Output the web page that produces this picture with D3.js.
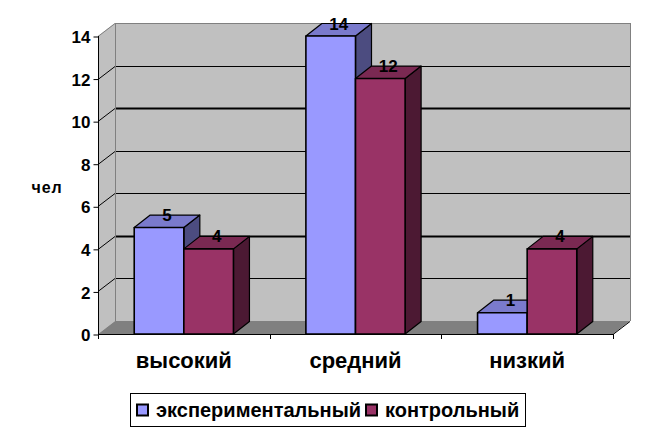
<!DOCTYPE html>
<html><head><meta charset="utf-8">
<script src="https://cdn.jsdelivr.net/npm/d3@7"></script>
<style>body{margin:0;background:#fff}svg{display:block}text{font-family:"Liberation Sans",Arial,sans-serif;font-weight:bold}</style>
</head><body>
<script>
const categories = ["высокий", "средний", "низкий"];
const seriesNames = ["экспериментальный", "контрольный"];
const experimental = [5, 14, 1];
const control = [4, 12, 4];
const yTicks = [0, 2, 4, 6, 8, 10, 12, 14];
const yAxisTitle = "чел";

const W = 658, H = 439;
const svg = d3.select("body").append("svg").attr("width", W).attr("height", H);

const y = d3.scaleLinear().domain([0, 14]).range([334, 36]);
const x = d3.scaleBand().domain(categories).range([98, 613]).paddingInner(0).paddingOuter(0);
const WDX = 17, WDY = -13;   // wall depth
const BDX = 16, BDY = -12.5; // bar depth
const left = 98, right = 613, base = 334;
const r = v => Math.round(y(v));
const FONT = "Liberation Sans, Arial, sans-serif";

const colors = {
  "экспериментальный": {front: "#9999ff", top: "#7a7acc", side: "#4c4c80"},
  "контрольный": {front: "#993366", top: "#7a2952", side: "#4c1933"}
};

// walls
svg.append("polygon").attr("points", [[left, r(14)], [left + WDX, r(14) + WDY], [left + WDX, base + WDY], [left, base]].join(" ")).attr("fill", "#c0c0c0");
svg.append("rect").attr("x", left + WDX).attr("y", r(14) + WDY).attr("width", right - left).attr("height", base - r(14)).attr("fill", "#c0c0c0");
// floor
svg.append("polygon").attr("points", [[left, base], [left + WDX, base + WDY], [right + WDX, base + WDY], [right, base]].join(" ")).attr("fill", "#808080");

// gridlines
yTicks.filter(v => v > 0).forEach(v => {
  const yy = r(v) + WDY;
  const isTop = v === 14;
  const sw = (v === 10 || v === 4) ? 2 : 1;
  svg.append("line").attr("x1", left + WDX).attr("x2", right + WDX).attr("y1", yy + 0.5).attr("y2", yy + 0.5)
    .attr("stroke", isTop ? "#808080" : "#000").attr("stroke-width", isTop ? 1 : sw);
  svg.append("line").attr("x1", left).attr("y1", r(v) + 0.5).attr("x2", left + WDX).attr("y2", yy + 0.5)
    .attr("stroke", isTop ? "#808080" : "#000").attr("stroke-width", 1);
});
// wall borders
svg.append("line").attr("x1", left + WDX + 0.5).attr("x2", left + WDX + 0.5).attr("y1", r(14) + WDY).attr("y2", base + WDY).attr("stroke", "#808080");
svg.append("line").attr("x1", right + WDX + 0.5).attr("x2", right + WDX + 0.5).attr("y1", r(14) + WDY).attr("y2", base + WDY).attr("stroke", "#808080");
svg.append("line").attr("x1", right).attr("y1", base + 0.5).attr("x2", right + WDX).attr("y2", base + WDY + 0.5).attr("stroke", "#000");

// axes
const yAxis = d3.axisLeft(y).tickValues(yTicks).tickSize(5).tickPadding(3).tickFormat(d3.format("d"));
const gy = svg.append("g").attr("transform", `translate(${left + 0.5},0.5)`).call(yAxis);
gy.select(".domain").remove();
gy.selectAll(".tick line").attr("stroke", "#000");
gy.selectAll(".tick text").attr("font-size", 17).attr("font-family", FONT).attr("font-weight", "bold").attr("fill", "#000").attr("dy", "0.36em");
svg.append("line").attr("x1", left + 0.5).attr("x2", left + 0.5).attr("y1", r(14)).attr("y2", base + 1).attr("stroke", "#000");

const xAxis = d3.axisBottom(x).tickSize(0).tickPadding(0);
const gx = svg.append("g").attr("transform", `translate(0,${base + 0.5})`).call(xAxis);
gx.select(".domain").remove();
gx.selectAll(".tick text").attr("font-size", 22).attr("font-family", FONT).attr("font-weight", "bold").attr("fill", "#000").attr("dy", 0).attr("y", 33);
svg.append("line").attr("x1", left).attr("x2", right).attr("y1", base + 0.5).attr("y2", base + 0.5).attr("stroke", "#000");
const bounds = categories.map(c => x(c)).concat([right]);
bounds.forEach(b => svg.append("line").attr("x1", Math.round(b) + 0.5).attr("x2", Math.round(b) + 0.5).attr("y1", base).attr("y2", base + 5).attr("stroke", "#000"));

// bars
const barW = x.bandwidth() * 0.289;
const sub = d3.scaleBand().domain(seriesNames).range([-barW, barW]);
const data = [experimental, control];
const labels = [];
categories.forEach((c, ci) => {
  const cx = x(c) + x.bandwidth() / 2;
  seriesNames.forEach((s, si) => {
    const v = data[si][ci];
    const x0 = cx + sub(s), x1 = x0 + sub.bandwidth();
    const yt = y(v);
    const col = colors[s];
    const g = svg.append("g").attr("stroke", "#000").attr("stroke-width", 1.2).attr("stroke-linejoin", "round");
    g.append("polygon").attr("points", [[x1, yt], [x1 + BDX, yt + BDY], [x1 + BDX, base + BDY], [x1, base]].join(" ")).attr("fill", col.side);
    g.append("polygon").attr("points", [[x0, yt], [x0 + BDX, yt + BDY], [x1 + BDX, yt + BDY], [x1, yt]].join(" ")).attr("fill", col.top);
    g.append("rect").attr("x", x0).attr("y", yt).attr("width", x1 - x0).attr("height", base - yt).attr("fill", col.front).attr("stroke-width", 1.6);
    labels.push({x: (x0 + x1) / 2 + BDX / 2, y: yt + BDY, v});
  });
});
svg.selectAll("text.val").data(labels).join("text").attr("class", "val")
  .attr("x", d => d.x).attr("y", d => d.y + 6).attr("text-anchor", "middle").attr("font-size", 17).attr("fill", "#000").text(d => d.v);

// y title
svg.append("text").attr("x", 47).attr("y", 193).attr("text-anchor", "middle").attr("font-size", 16).attr("letter-spacing", 0.8).text(yAxisTitle);

// legend
const lg = svg.append("g");
lg.append("rect").attr("x", 130.5).attr("y", 393.5).attr("width", 395).attr("height", 33).attr("fill", "#fff").attr("stroke", "#000");
const legX = [137, 366];
seriesNames.forEach((s, i) => {
  lg.append("rect").attr("x", legX[i]).attr("y", 404.5).attr("width", 11).attr("height", 11).attr("fill", colors[s].front).attr("stroke", "#000").attr("stroke-width", 2);
  lg.append("text").attr("x", legX[i] + 19).attr("y", 417).attr("font-size", 20).attr("fill", "#000").text(s);
});
</script>
</body></html>
